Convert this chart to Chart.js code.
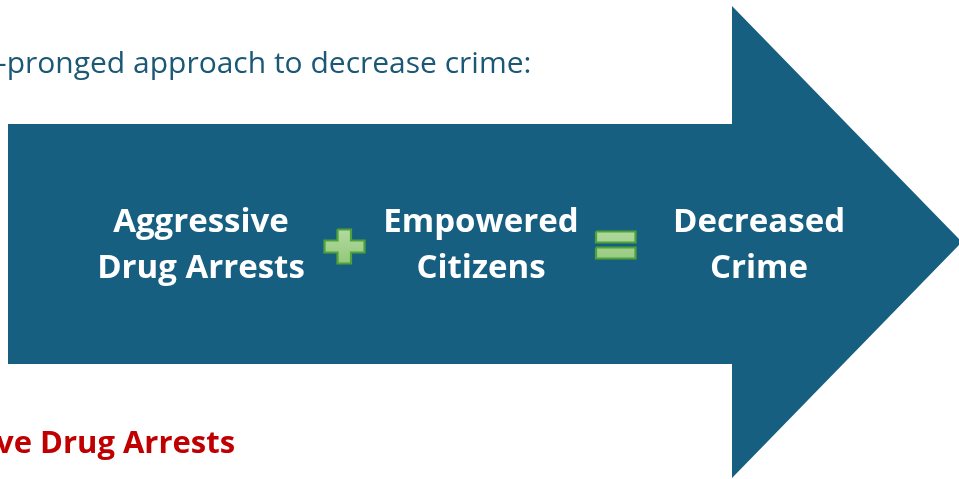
<!DOCTYPE html>
<html>
<head>
<meta charset="utf-8">
<script src="https://cdn.jsdelivr.net/npm/chart.js@4.4.1/dist/chart.umd.min.js"></script>
<style>
html,body{margin:0;padding:0;background:#ffffff;overflow:hidden;}
#wrap{width:959px;height:479px;position:relative;}
</style>
</head>
<body>
<div id="wrap"><canvas id="c" width="959" height="479"></canvas></div>
<script>
// ---- data (shape vertices in diagram units, 0..959 x 0..479) ----
const arrowX = [8, 732, 732, 962, 732, 732, 8, 8];
const arrowY = [124, 124, 6, 242, 478, 364, 364, 124];
const plusX = [337.5, 351, 351, 364.5, 364.5, 351, 351, 337.5, 337.5, 324.5, 324.5, 337.5, 337.5];
const plusY = [229.5, 229.5, 240.5, 240.5, 252.5, 252.5, 263.5, 263.5, 252.5, 252.5, 240.5, 240.5, 229.5];
const eqTopX = [596, 635.5, 635.5, 596, 596];
const eqTopY = [231.5, 231.5, 242.5, 242.5, 231.5];
const eqBotX = [596, 635.5, 635.5, 596, 596];
const eqBotY = [247.5, 247.5, 258.5, 258.5, 247.5];

const headingText = "-pronged approach to decrease crime:";
const termLines = [["Aggressive", "Drug Arrests"], ["Empowered", "Citizens"], ["Decreased", "Crime"]];
const footerText = "ve Drug Arrests";

// ---- layout / style ----
const termCenters = [201, 481, 759];
const termBaselines = [232, 278];
const textItems = [];
textItems.push({text: headingText, x: -3, y: 73, font: "400 30px 'Open Sans'", color: "#1b5876", align: "left"});
termLines.forEach((lines, i) => {
  lines.forEach((t, j) => {
    textItems.push({text: t, x: termCenters[i], y: termBaselines[j], font: "700 33px 'Open Sans'", color: "#ffffff", align: "center"});
  });
});
textItems.push({text: footerText, x: -4, y: 453, font: "700 31px 'Open Sans'", color: "#c00000", align: "left"});

function pts(xs, ys) { return xs.map((x, i) => ({x: x, y: ys[i]})); }

function greenGrad(ctx) {
  const chart = ctx.chart;
  const y = chart.scales.y;
  if (!y || !chart.chartArea) return '#a3d28f';
  const y0 = y.getPixelForValue(229), y1 = y.getPixelForValue(263);
  if (!isFinite(y0) || !isFinite(y1)) return '#a3d28f';
  const g = chart.ctx.createLinearGradient(0, y0, 0, y1);
  g.addColorStop(0, '#b2daa0');
  g.addColorStop(1, '#94c87c');
  return g;
}

const shapeDefaults = {showLine: true, fill: 'shape', pointRadius: 0, tension: 0, clip: false};

const textPlugin = {
  id: 'texts',
  afterDatasetsDraw(chart) {
    const ctx = chart.ctx, xs = chart.scales.x, ys = chart.scales.y;
    ctx.save();
    ctx.textBaseline = 'alphabetic';
    textItems.forEach(it => {
      ctx.font = it.font;
      ctx.fillStyle = it.color;
      ctx.textAlign = it.align;
      ctx.fillText(it.text, xs.getPixelForValue(it.x), ys.getPixelForValue(it.y));
    });
    ctx.restore();
  }
};

function draw() {
  new Chart(document.getElementById('c'), {
    type: 'scatter',
    data: {
      datasets: [
        Object.assign({label: 'arrow', order: 10, data: pts(arrowX, arrowY), backgroundColor: '#175f81', borderColor: '#175f81', borderWidth: 0}, shapeDefaults),
        Object.assign({label: 'plus', order: 1, data: pts(plusX, plusY), backgroundColor: greenGrad, borderColor: '#4fa238', borderWidth: 2.2}, shapeDefaults),
        Object.assign({label: 'eqTop', order: 1, data: pts(eqTopX, eqTopY), backgroundColor: greenGrad, borderColor: '#4fa238', borderWidth: 2.2}, shapeDefaults),
        Object.assign({label: 'eqBot', order: 1, data: pts(eqBotX, eqBotY), backgroundColor: greenGrad, borderColor: '#4fa238', borderWidth: 2.2}, shapeDefaults)
      ]
    },
    options: {
      responsive: false,
      animation: false,
      devicePixelRatio: 1,
      layout: {padding: 0},
      plugins: {legend: {display: false}, tooltip: {enabled: false}, title: {display: false}},
      scales: {
        x: {type: 'linear', min: 0, max: 959, display: false},
        y: {type: 'linear', min: 0, max: 479, reverse: true, display: false}
      },
      elements: {line: {borderJoinStyle: 'miter'}}
    },
    plugins: [textPlugin]
  });
}
if (document.fonts && document.fonts.load) {
  Promise.all([document.fonts.load("400 30px 'Open Sans'"), document.fonts.load("700 33px 'Open Sans'")]).then(draw, draw);
} else { draw(); }
</script>
</body>
</html>
